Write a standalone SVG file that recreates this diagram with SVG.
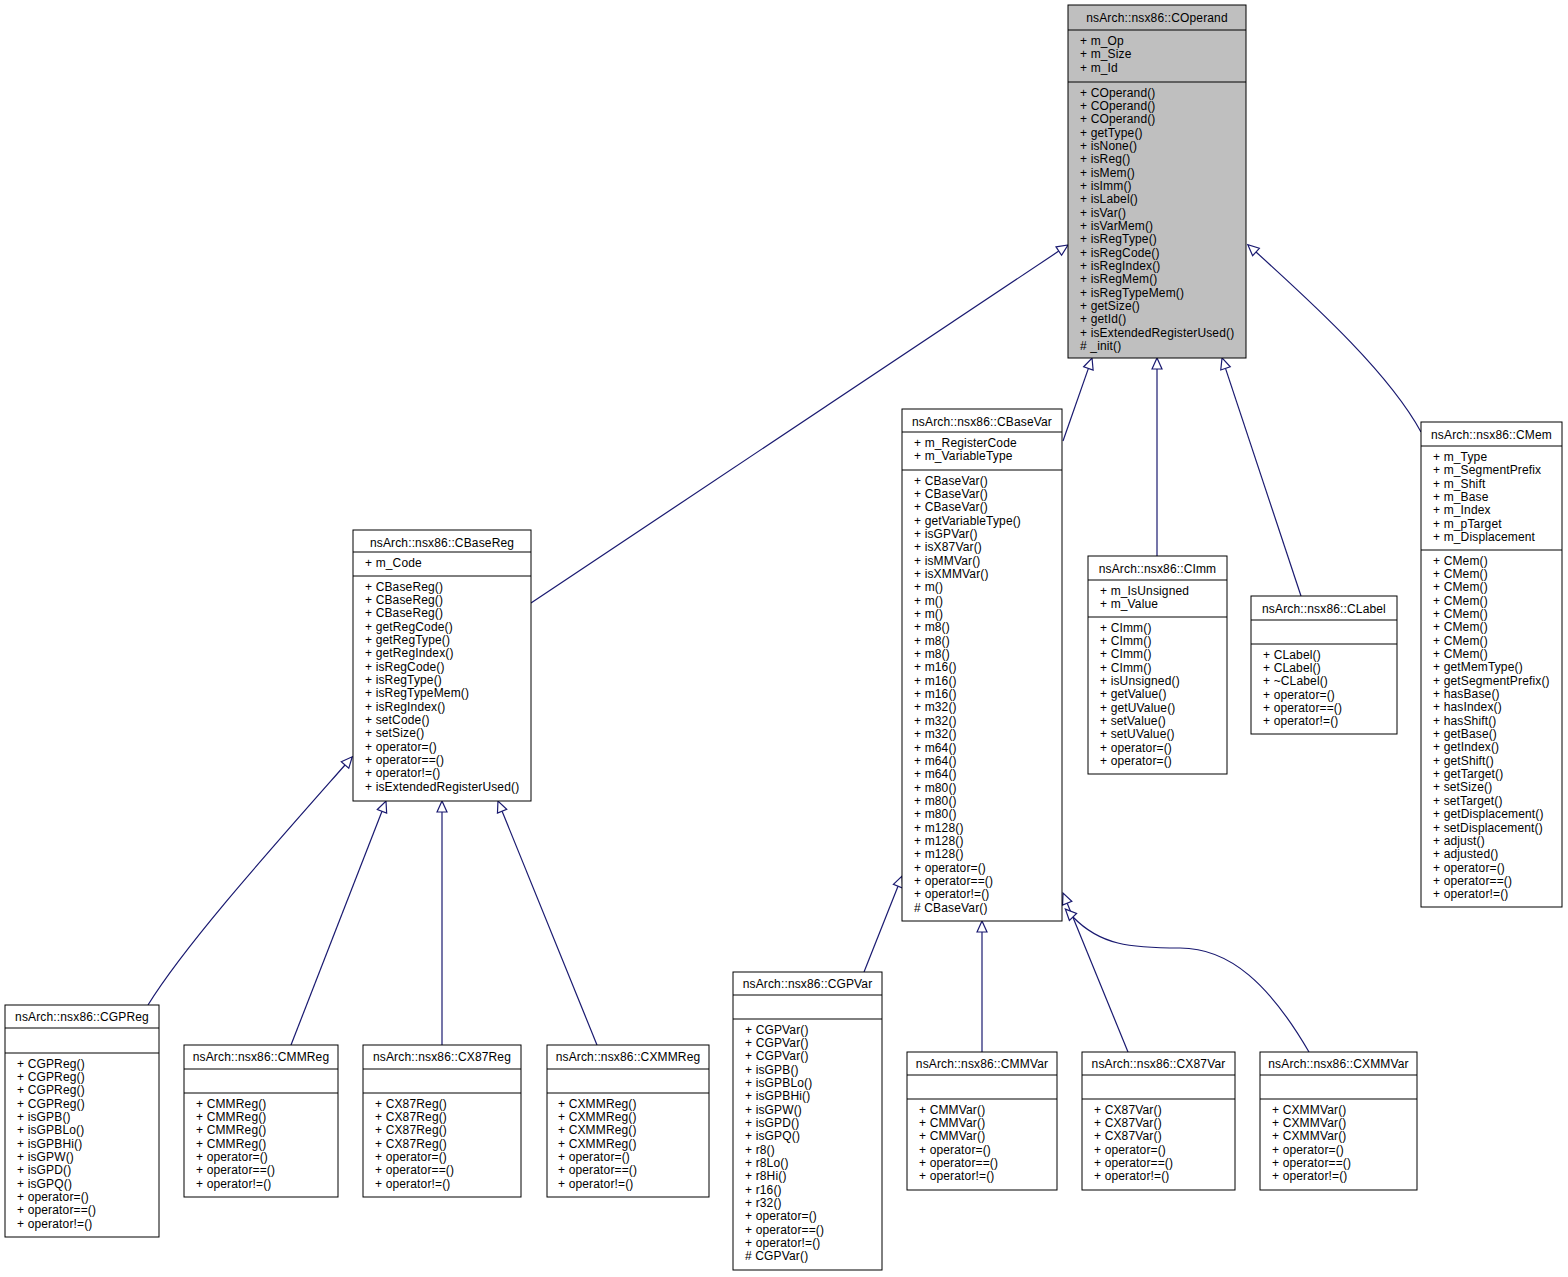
<svg xmlns="http://www.w3.org/2000/svg" width="1568" height="1277" viewBox="0 0 1568 1277">
<style>
.bg{fill:#fff}
.box{fill:#fff;stroke:#000;stroke-width:1}
.root{fill:#bfbfbf;stroke:#000;stroke-width:1}
.sep{stroke:#000;stroke-width:1}
.t{font-family:"Liberation Sans",Arial,Helvetica,sans-serif;font-size:12px;fill:#000;letter-spacing:0.15px}
.c{text-anchor:middle}
.e{fill:none;stroke:#191970;stroke-width:1.2}
</style>
<defs>
<marker id="tri" markerUnits="userSpaceOnUse" markerWidth="16" markerHeight="14" refX="1" refY="6" orient="auto" viewBox="0 0 16 12" overflow="visible">
<path d="M1,1 L12,6 L1,11 Z" fill="#fff" stroke="#191970" stroke-width="1.2"/>
</marker>
</defs>
<rect class="bg" x="0" y="0" width="1568" height="1277"/>

<g id="connectors">
<path class="e" marker-end="url(#tri)" d="M531,603 L1058.8,251.1"/>
<path class="e" marker-end="url(#tri)" d="M1063,441 L1088.4,368.4"/>
<path class="e" marker-end="url(#tri)" d="M1157,556 L1157,369"/>
<path class="e" marker-end="url(#tri)" d="M1301,596 L1225.5,368.4"/>
<path class="e" marker-end="url(#tri)" d="M1421,432 C1390,375 1320,310 1256,252"/>
<path class="e" marker-end="url(#tri)" d="M148,1005 C185,945 270,850 345,765"/>
<path class="e" marker-end="url(#tri)" d="M291,1045 L382,811.3"/>
<path class="e" marker-end="url(#tri)" d="M442,1045 L442,812"/>
<path class="e" marker-end="url(#tri)" d="M597,1045 L502.1,811.2"/>
<path class="e" marker-end="url(#tri)" d="M864,972 L898,886.2"/>
<path class="e" marker-end="url(#tri)" d="M982,1052 L982,932"/>
<path class="e" marker-end="url(#tri)" d="M1128,1052 L1067.2,903.2"/>
<path class="e" marker-end="url(#tri)" d="M1309,1052 C1270,985 1230,948 1180,948 C1130,948 1100,945 1073,917"/>
</g>

<g id="COperand">
<rect class="root" x="1068" y="5" width="178" height="353"/>
<line class="sep" x1="1068" y1="30" x2="1246" y2="30"/>
<line class="sep" x1="1068" y1="82" x2="1246" y2="82"/>
<text class="t c" x="1157" y="21.5">nsArch::nsx86::COperand</text>
<text class="t" x="1080" y="45"><tspan x="1080">+ m_Op</tspan><tspan x="1080" dy="13.35">+ m_Size</tspan><tspan x="1080" dy="13.35">+ m_Id</tspan></text>
<text class="t" x="1080" y="96.5"><tspan x="1080">+ COperand()</tspan><tspan x="1080" dy="13.35">+ COperand()</tspan><tspan x="1080" dy="13.35">+ COperand()</tspan><tspan x="1080" dy="13.35">+ getType()</tspan><tspan x="1080" dy="13.35">+ isNone()</tspan><tspan x="1080" dy="13.35">+ isReg()</tspan><tspan x="1080" dy="13.35">+ isMem()</tspan><tspan x="1080" dy="13.35">+ isImm()</tspan><tspan x="1080" dy="13.35">+ isLabel()</tspan><tspan x="1080" dy="13.35">+ isVar()</tspan><tspan x="1080" dy="13.35">+ isVarMem()</tspan><tspan x="1080" dy="13.35">+ isRegType()</tspan><tspan x="1080" dy="13.35">+ isRegCode()</tspan><tspan x="1080" dy="13.35">+ isRegIndex()</tspan><tspan x="1080" dy="13.35">+ isRegMem()</tspan><tspan x="1080" dy="13.35">+ isRegTypeMem()</tspan><tspan x="1080" dy="13.35">+ getSize()</tspan><tspan x="1080" dy="13.35">+ getId()</tspan><tspan x="1080" dy="13.35">+ isExtendedRegisterUsed()</tspan><tspan x="1080" dy="13.35"># _init()</tspan></text>
</g>

<g id="CBaseReg">
<rect class="box" x="353" y="530" width="178" height="271"/>
<line class="sep" x1="353" y1="552" x2="531" y2="552"/>
<line class="sep" x1="353" y1="576" x2="531" y2="576"/>
<text class="t c" x="442" y="546.5">nsArch::nsx86::CBaseReg</text>
<text class="t" x="365" y="567">+ m_Code</text>
<text class="t" x="365" y="590.5"><tspan x="365">+ CBaseReg()</tspan><tspan x="365" dy="13.35">+ CBaseReg()</tspan><tspan x="365" dy="13.35">+ CBaseReg()</tspan><tspan x="365" dy="13.35">+ getRegCode()</tspan><tspan x="365" dy="13.35">+ getRegType()</tspan><tspan x="365" dy="13.35">+ getRegIndex()</tspan><tspan x="365" dy="13.35">+ isRegCode()</tspan><tspan x="365" dy="13.35">+ isRegType()</tspan><tspan x="365" dy="13.35">+ isRegTypeMem()</tspan><tspan x="365" dy="13.35">+ isRegIndex()</tspan><tspan x="365" dy="13.35">+ setCode()</tspan><tspan x="365" dy="13.35">+ setSize()</tspan><tspan x="365" dy="13.35">+ operator=()</tspan><tspan x="365" dy="13.35">+ operator==()</tspan><tspan x="365" dy="13.35">+ operator!=()</tspan><tspan x="365" dy="13.35">+ isExtendedRegisterUsed()</tspan></text>
</g>

<g id="CBaseVar">
<rect class="box" x="902" y="409" width="160" height="512"/>
<line class="sep" x1="902" y1="432" x2="1062" y2="432"/>
<line class="sep" x1="902" y1="470" x2="1062" y2="470"/>
<text class="t c" x="982" y="425.5">nsArch::nsx86::CBaseVar</text>
<text class="t" x="914" y="447"><tspan x="914">+ m_RegisterCode</tspan><tspan x="914" dy="13.35">+ m_VariableType</tspan></text>
<text class="t" x="914" y="484.5"><tspan x="914">+ CBaseVar()</tspan><tspan x="914" dy="13.35">+ CBaseVar()</tspan><tspan x="914" dy="13.35">+ CBaseVar()</tspan><tspan x="914" dy="13.35">+ getVariableType()</tspan><tspan x="914" dy="13.35">+ isGPVar()</tspan><tspan x="914" dy="13.35">+ isX87Var()</tspan><tspan x="914" dy="13.35">+ isMMVar()</tspan><tspan x="914" dy="13.35">+ isXMMVar()</tspan><tspan x="914" dy="13.35">+ m()</tspan><tspan x="914" dy="13.35">+ m()</tspan><tspan x="914" dy="13.35">+ m()</tspan><tspan x="914" dy="13.35">+ m8()</tspan><tspan x="914" dy="13.35">+ m8()</tspan><tspan x="914" dy="13.35">+ m8()</tspan><tspan x="914" dy="13.35">+ m16()</tspan><tspan x="914" dy="13.35">+ m16()</tspan><tspan x="914" dy="13.35">+ m16()</tspan><tspan x="914" dy="13.35">+ m32()</tspan><tspan x="914" dy="13.35">+ m32()</tspan><tspan x="914" dy="13.35">+ m32()</tspan><tspan x="914" dy="13.35">+ m64()</tspan><tspan x="914" dy="13.35">+ m64()</tspan><tspan x="914" dy="13.35">+ m64()</tspan><tspan x="914" dy="13.35">+ m80()</tspan><tspan x="914" dy="13.35">+ m80()</tspan><tspan x="914" dy="13.35">+ m80()</tspan><tspan x="914" dy="13.35">+ m128()</tspan><tspan x="914" dy="13.35">+ m128()</tspan><tspan x="914" dy="13.35">+ m128()</tspan><tspan x="914" dy="13.35">+ operator=()</tspan><tspan x="914" dy="13.35">+ operator==()</tspan><tspan x="914" dy="13.35">+ operator!=()</tspan><tspan x="914" dy="13.35"># CBaseVar()</tspan></text>
</g>

<g id="CImm">
<rect class="box" x="1088" y="556" width="139" height="218"/>
<line class="sep" x1="1088" y1="580" x2="1227" y2="580"/>
<line class="sep" x1="1088" y1="617" x2="1227" y2="617"/>
<text class="t c" x="1157.5" y="572.5">nsArch::nsx86::CImm</text>
<text class="t" x="1100" y="594.5"><tspan x="1100">+ m_IsUnsigned</tspan><tspan x="1100" dy="13.35">+ m_Value</tspan></text>
<text class="t" x="1100" y="631.5"><tspan x="1100">+ CImm()</tspan><tspan x="1100" dy="13.35">+ CImm()</tspan><tspan x="1100" dy="13.35">+ CImm()</tspan><tspan x="1100" dy="13.35">+ CImm()</tspan><tspan x="1100" dy="13.35">+ isUnsigned()</tspan><tspan x="1100" dy="13.35">+ getValue()</tspan><tspan x="1100" dy="13.35">+ getUValue()</tspan><tspan x="1100" dy="13.35">+ setValue()</tspan><tspan x="1100" dy="13.35">+ setUValue()</tspan><tspan x="1100" dy="13.35">+ operator=()</tspan><tspan x="1100" dy="13.35">+ operator=()</tspan></text>
</g>

<g id="CLabel">
<rect class="box" x="1251" y="596" width="146" height="138"/>
<line class="sep" x1="1251" y1="620" x2="1397" y2="620"/>
<line class="sep" x1="1251" y1="644" x2="1397" y2="644"/>
<text class="t c" x="1324" y="612.5">nsArch::nsx86::CLabel</text>
<text class="t" x="1263" y="658.5"><tspan x="1263">+ CLabel()</tspan><tspan x="1263" dy="13.35">+ CLabel()</tspan><tspan x="1263" dy="13.35">+ ~CLabel()</tspan><tspan x="1263" dy="13.35">+ operator=()</tspan><tspan x="1263" dy="13.35">+ operator==()</tspan><tspan x="1263" dy="13.35">+ operator!=()</tspan></text>
</g>

<g id="CMem">
<rect class="box" x="1421" y="422" width="141" height="485"/>
<line class="sep" x1="1421" y1="446" x2="1562" y2="446"/>
<line class="sep" x1="1421" y1="550" x2="1562" y2="550"/>
<text class="t c" x="1491.5" y="438.5">nsArch::nsx86::CMem</text>
<text class="t" x="1433" y="461"><tspan x="1433">+ m_Type</tspan><tspan x="1433" dy="13.35">+ m_SegmentPrefix</tspan><tspan x="1433" dy="13.35">+ m_Shift</tspan><tspan x="1433" dy="13.35">+ m_Base</tspan><tspan x="1433" dy="13.35">+ m_Index</tspan><tspan x="1433" dy="13.35">+ m_pTarget</tspan><tspan x="1433" dy="13.35">+ m_Displacement</tspan></text>
<text class="t" x="1433" y="564.5"><tspan x="1433">+ CMem()</tspan><tspan x="1433" dy="13.35">+ CMem()</tspan><tspan x="1433" dy="13.35">+ CMem()</tspan><tspan x="1433" dy="13.35">+ CMem()</tspan><tspan x="1433" dy="13.35">+ CMem()</tspan><tspan x="1433" dy="13.35">+ CMem()</tspan><tspan x="1433" dy="13.35">+ CMem()</tspan><tspan x="1433" dy="13.35">+ CMem()</tspan><tspan x="1433" dy="13.35">+ getMemType()</tspan><tspan x="1433" dy="13.35">+ getSegmentPrefix()</tspan><tspan x="1433" dy="13.35">+ hasBase()</tspan><tspan x="1433" dy="13.35">+ hasIndex()</tspan><tspan x="1433" dy="13.35">+ hasShift()</tspan><tspan x="1433" dy="13.35">+ getBase()</tspan><tspan x="1433" dy="13.35">+ getIndex()</tspan><tspan x="1433" dy="13.35">+ getShift()</tspan><tspan x="1433" dy="13.35">+ getTarget()</tspan><tspan x="1433" dy="13.35">+ setSize()</tspan><tspan x="1433" dy="13.35">+ setTarget()</tspan><tspan x="1433" dy="13.35">+ getDisplacement()</tspan><tspan x="1433" dy="13.35">+ setDisplacement()</tspan><tspan x="1433" dy="13.35">+ adjust()</tspan><tspan x="1433" dy="13.35">+ adjusted()</tspan><tspan x="1433" dy="13.35">+ operator=()</tspan><tspan x="1433" dy="13.35">+ operator==()</tspan><tspan x="1433" dy="13.35">+ operator!=()</tspan></text>
</g>

<g id="CGPReg">
<rect class="box" x="5" y="1005" width="154" height="232"/>
<line class="sep" x1="5" y1="1028" x2="159" y2="1028"/>
<line class="sep" x1="5" y1="1053" x2="159" y2="1053"/>
<text class="t c" x="82" y="1021">nsArch::nsx86::CGPReg</text>
<text class="t" x="17" y="1067.5"><tspan x="17">+ CGPReg()</tspan><tspan x="17" dy="13.35">+ CGPReg()</tspan><tspan x="17" dy="13.35">+ CGPReg()</tspan><tspan x="17" dy="13.35">+ CGPReg()</tspan><tspan x="17" dy="13.35">+ isGPB()</tspan><tspan x="17" dy="13.35">+ isGPBLo()</tspan><tspan x="17" dy="13.35">+ isGPBHi()</tspan><tspan x="17" dy="13.35">+ isGPW()</tspan><tspan x="17" dy="13.35">+ isGPD()</tspan><tspan x="17" dy="13.35">+ isGPQ()</tspan><tspan x="17" dy="13.35">+ operator=()</tspan><tspan x="17" dy="13.35">+ operator==()</tspan><tspan x="17" dy="13.35">+ operator!=()</tspan></text>
</g>

<g id="CMMReg">
<rect class="box" x="184" y="1045" width="154" height="152"/>
<line class="sep" x1="184" y1="1069" x2="338" y2="1069"/>
<line class="sep" x1="184" y1="1093" x2="338" y2="1093"/>
<text class="t c" x="261" y="1061">nsArch::nsx86::CMMReg</text>
<text class="t" x="196" y="1107.5"><tspan x="196">+ CMMReg()</tspan><tspan x="196" dy="13.35">+ CMMReg()</tspan><tspan x="196" dy="13.35">+ CMMReg()</tspan><tspan x="196" dy="13.35">+ CMMReg()</tspan><tspan x="196" dy="13.35">+ operator=()</tspan><tspan x="196" dy="13.35">+ operator==()</tspan><tspan x="196" dy="13.35">+ operator!=()</tspan></text>
</g>

<g id="CX87Reg">
<rect class="box" x="363" y="1045" width="158" height="152"/>
<line class="sep" x1="363" y1="1069" x2="521" y2="1069"/>
<line class="sep" x1="363" y1="1093" x2="521" y2="1093"/>
<text class="t c" x="442" y="1061">nsArch::nsx86::CX87Reg</text>
<text class="t" x="375" y="1107.5"><tspan x="375">+ CX87Reg()</tspan><tspan x="375" dy="13.35">+ CX87Reg()</tspan><tspan x="375" dy="13.35">+ CX87Reg()</tspan><tspan x="375" dy="13.35">+ CX87Reg()</tspan><tspan x="375" dy="13.35">+ operator=()</tspan><tspan x="375" dy="13.35">+ operator==()</tspan><tspan x="375" dy="13.35">+ operator!=()</tspan></text>
</g>

<g id="CXMMReg">
<rect class="box" x="547" y="1045" width="162" height="152"/>
<line class="sep" x1="547" y1="1069" x2="709" y2="1069"/>
<line class="sep" x1="547" y1="1093" x2="709" y2="1093"/>
<text class="t c" x="628" y="1061">nsArch::nsx86::CXMMReg</text>
<text class="t" x="558" y="1107.5"><tspan x="558">+ CXMMReg()</tspan><tspan x="558" dy="13.35">+ CXMMReg()</tspan><tspan x="558" dy="13.35">+ CXMMReg()</tspan><tspan x="558" dy="13.35">+ CXMMReg()</tspan><tspan x="558" dy="13.35">+ operator=()</tspan><tspan x="558" dy="13.35">+ operator==()</tspan><tspan x="558" dy="13.35">+ operator!=()</tspan></text>
</g>

<g id="CGPVar">
<rect class="box" x="733" y="972" width="149" height="298"/>
<line class="sep" x1="733" y1="995" x2="882" y2="995"/>
<line class="sep" x1="733" y1="1019" x2="882" y2="1019"/>
<text class="t c" x="807.5" y="988">nsArch::nsx86::CGPVar</text>
<text class="t" x="745" y="1033.5"><tspan x="745">+ CGPVar()</tspan><tspan x="745" dy="13.35">+ CGPVar()</tspan><tspan x="745" dy="13.35">+ CGPVar()</tspan><tspan x="745" dy="13.35">+ isGPB()</tspan><tspan x="745" dy="13.35">+ isGPBLo()</tspan><tspan x="745" dy="13.35">+ isGPBHi()</tspan><tspan x="745" dy="13.35">+ isGPW()</tspan><tspan x="745" dy="13.35">+ isGPD()</tspan><tspan x="745" dy="13.35">+ isGPQ()</tspan><tspan x="745" dy="13.35">+ r8()</tspan><tspan x="745" dy="13.35">+ r8Lo()</tspan><tspan x="745" dy="13.35">+ r8Hi()</tspan><tspan x="745" dy="13.35">+ r16()</tspan><tspan x="745" dy="13.35">+ r32()</tspan><tspan x="745" dy="13.35">+ operator=()</tspan><tspan x="745" dy="13.35">+ operator==()</tspan><tspan x="745" dy="13.35">+ operator!=()</tspan><tspan x="745" dy="13.35"># CGPVar()</tspan></text>
</g>

<g id="CMMVar">
<rect class="box" x="907" y="1052" width="150" height="138"/>
<line class="sep" x1="907" y1="1075" x2="1057" y2="1075"/>
<line class="sep" x1="907" y1="1099" x2="1057" y2="1099"/>
<text class="t c" x="982" y="1068">nsArch::nsx86::CMMVar</text>
<text class="t" x="919" y="1113.5"><tspan x="919">+ CMMVar()</tspan><tspan x="919" dy="13.35">+ CMMVar()</tspan><tspan x="919" dy="13.35">+ CMMVar()</tspan><tspan x="919" dy="13.35">+ operator=()</tspan><tspan x="919" dy="13.35">+ operator==()</tspan><tspan x="919" dy="13.35">+ operator!=()</tspan></text>
</g>

<g id="CX87Var">
<rect class="box" x="1082" y="1052" width="153" height="138"/>
<line class="sep" x1="1082" y1="1075" x2="1235" y2="1075"/>
<line class="sep" x1="1082" y1="1099" x2="1235" y2="1099"/>
<text class="t c" x="1158.5" y="1068">nsArch::nsx86::CX87Var</text>
<text class="t" x="1094" y="1113.5"><tspan x="1094">+ CX87Var()</tspan><tspan x="1094" dy="13.35">+ CX87Var()</tspan><tspan x="1094" dy="13.35">+ CX87Var()</tspan><tspan x="1094" dy="13.35">+ operator=()</tspan><tspan x="1094" dy="13.35">+ operator==()</tspan><tspan x="1094" dy="13.35">+ operator!=()</tspan></text>
</g>

<g id="CXMMVar">
<rect class="box" x="1260" y="1052" width="157" height="138"/>
<line class="sep" x1="1260" y1="1075" x2="1417" y2="1075"/>
<line class="sep" x1="1260" y1="1099" x2="1417" y2="1099"/>
<text class="t c" x="1338.5" y="1068">nsArch::nsx86::CXMMVar</text>
<text class="t" x="1272" y="1113.5"><tspan x="1272">+ CXMMVar()</tspan><tspan x="1272" dy="13.35">+ CXMMVar()</tspan><tspan x="1272" dy="13.35">+ CXMMVar()</tspan><tspan x="1272" dy="13.35">+ operator=()</tspan><tspan x="1272" dy="13.35">+ operator==()</tspan><tspan x="1272" dy="13.35">+ operator!=()</tspan></text>
</g>
</svg>
